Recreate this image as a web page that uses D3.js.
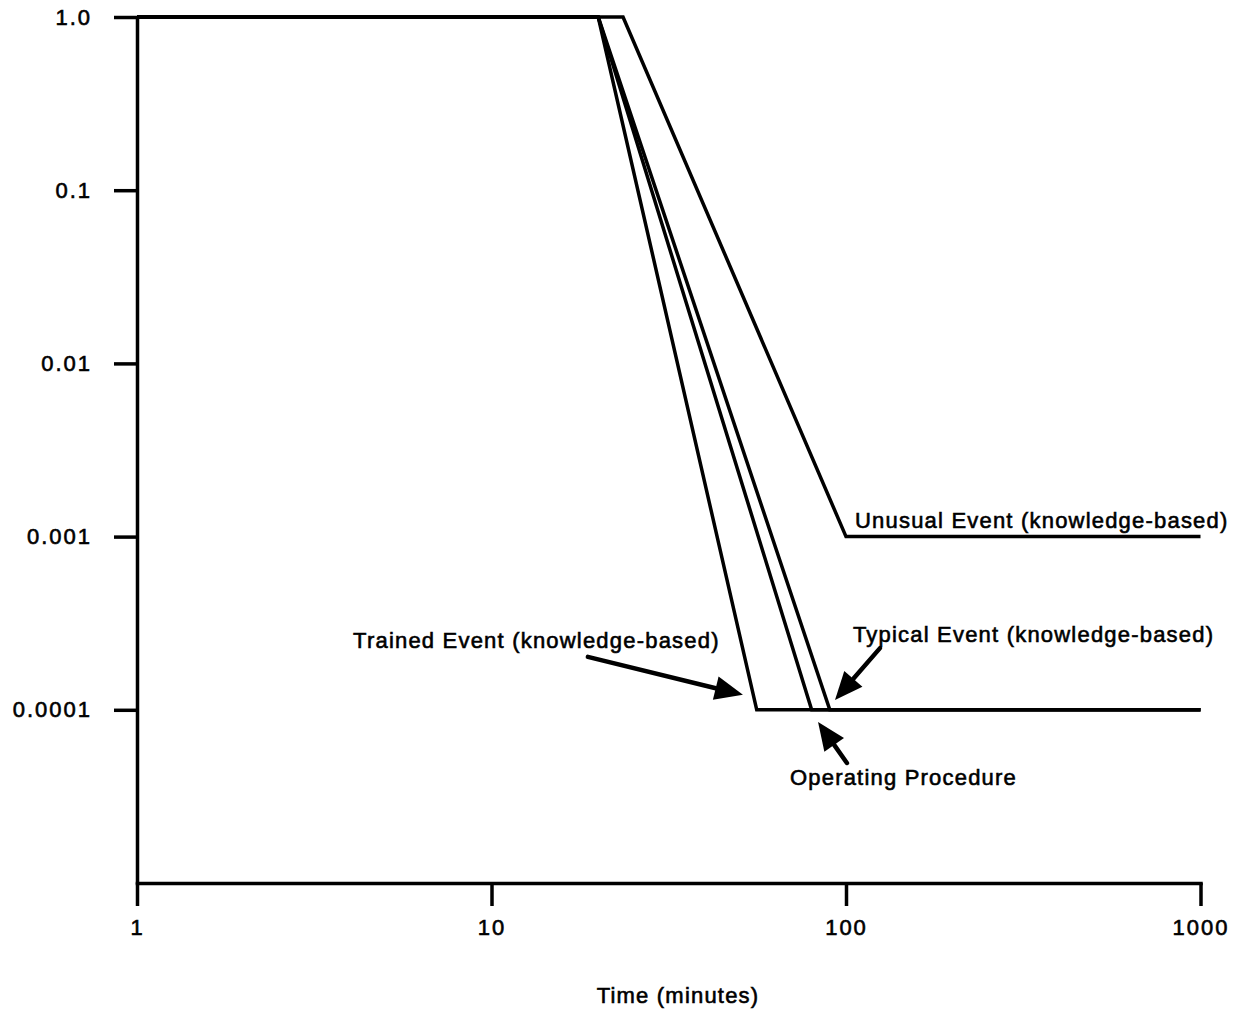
<!DOCTYPE html>
<html>
<head>
<meta charset="utf-8">
<script src="https://cdn.jsdelivr.net/npm/d3@7"></script>
<style>
  body { margin: 0; background: #fff; }
  svg text { font-family: "Liberation Sans", Arial, sans-serif; fill: #000; }
</style>
</head>
<body>
<svg id="chart" width="1239" height="1014"></svg>
<script>
// curves: time (minutes) vs probability of failure
var unusualEvent = [[1, 1], [23.5, 1], [100, 0.001], [1000, 0.001]];
var typicalEvent = [[1, 1], [20, 1], [90, 0.0001], [1000, 0.0001]];
var operatingProcedure = [[1, 1], [20, 1], [80, 0.0001], [1000, 0.0001]];
var trainedEvent = [[1, 1], [20, 1], [56, 0.0001], [1000, 0.0001]];

var xTicks = [1, 10, 100, 1000];
var xTickLabels = ["1", "10", "100", "1000"];
var yTicks = [1, 0.1, 0.01, 0.001, 0.0001];
var yTickLabels = ["1.0", "0.1", "0.01", "0.001", "0.0001"];

// labels and arrows, in data units
var labelNames = ["Unusual Event (knowledge-based)", "Typical Event (knowledge-based)",
                  "Trained Event (knowledge-based)", "Operating Procedure"];
var labelAt = [[106, 1.12e-3], [104.6, 2.46e-4], [4.07, 2.27e-4], [69.5, 3.68e-5]];
var arrowFrom = [null, [124.7, 2.27e-4], [18.7, 2.02e-4], [100.6, 4.93e-5]];
var arrowTo = [null, [93.1, 1.14e-4], [51.2, 1.22e-4], [83.4, 8.5e-5]];

var svg = d3.select("#chart");

var x = d3.scaleLog().domain([1, 1000]).range([137, 1200.5]);
var y = d3.scaleLog().domain([1e-5, 1]).range([883, 17]);

function inked(sel) {
  sel.style("font-size", "22px")
    .style("font-weight", "normal")
    .style("letter-spacing", "1.2px")
    .style("stroke", "#000")
    .style("stroke-width", "0.6px");
}

// y axis
var yAxis = d3.axisLeft(y)
  .tickValues(yTicks)
  .tickFormat(function(d, i) { return yTickLabels[i]; })
  .tickSize(23)
  .tickPadding(22)
  .tickSizeOuter(0);
var gy = svg.append("g").attr("transform", "translate(137,0)").call(yAxis);

// x axis
var xAxis = d3.axisBottom(x)
  .tickValues(xTicks)
  .tickFormat(function(d, i) { return xTickLabels[i]; })
  .tickSize(23)
  .tickPadding(13)
  .tickSizeOuter(0);
var gx = svg.append("g").attr("transform", "translate(0,883)").call(xAxis);

[gx, gy].forEach(function(g) {
  g.select(".domain").attr("stroke", "#000").attr("stroke-width", 3.5);
  g.selectAll(".tick line").attr("stroke", "#000").attr("stroke-width", 3.5);
  g.selectAll(".tick text").call(inked).style("letter-spacing", "2px");
});
gx.select(".domain").attr("stroke-linecap", "square");

var line = d3.line()
  .x(function(d) { return x(d[0]); })
  .y(function(d) { return y(d[1]); });

[trainedEvent, operatingProcedure, typicalEvent, unusualEvent].forEach(function(s) {
  svg.append("path")
    .datum(s)
    .attr("d", line)
    .attr("fill", "none")
    .attr("stroke", "#000")
    .attr("stroke-width", 3.5)
    .attr("stroke-linejoin", "miter");
});

// annotations
labelNames.forEach(function(name, i) {
  svg.append("text")
    .attr("x", x(labelAt[i][0]))
    .attr("y", y(labelAt[i][1]))
    .call(inked)
    .text(name);

  if (!arrowFrom[i]) return;
  var x0 = x(arrowFrom[i][0]), y0 = y(arrowFrom[i][1]);
  var x1 = x(arrowTo[i][0]), y1 = y(arrowTo[i][1]);
  var ang = Math.atan2(y1 - y0, x1 - x0);
  var headLen = 28, headW = 12;
  var bx = x1 - headLen * Math.cos(ang), by = y1 - headLen * Math.sin(ang);
  svg.append("line")
    .attr("x1", x0).attr("y1", y0)
    .attr("x2", bx).attr("y2", by)
    .attr("stroke", "#000")
    .attr("stroke-width", 4.5)
    .attr("stroke-linecap", "round");
  var px = -Math.sin(ang), py = Math.cos(ang);
  svg.append("polygon")
    .attr("points", [[x1, y1], [bx + px * headW, by + py * headW], [bx - px * headW, by - py * headW]]
      .map(function(p) { return p.join(","); }).join(" "))
    .attr("fill", "#000");
});

svg.append("text")
  .attr("x", 678)
  .attr("y", 1003)
  .attr("text-anchor", "middle")
  .call(inked)
  .text("Time  (minutes)");
</script>
</body>
</html>
